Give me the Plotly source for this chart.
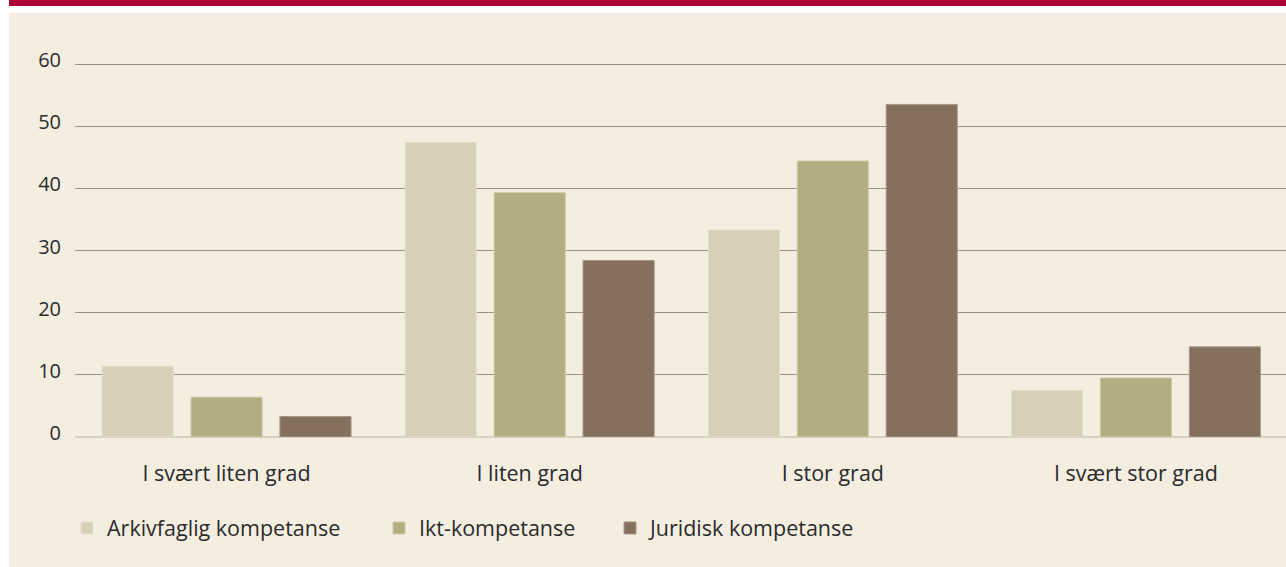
import plotly.graph_objects as go

categories = ["I svært liten grad", "I liten grad", "I stor grad", "I svært stor grad"]
series_names = ["Arkivfaglig kompetanse", "Ikt-kompetanse", "Juridisk kompetanse"]
arkiv = [11.4, 47.4, 33.3, 7.5]
ikt = [6.4, 39.3, 44.4, 9.5]
juridisk = [3.3, 28.4, 53.5, 14.5]
y_ticks = [0, 10, 20, 30, 40, 50, 60]

colors = ["#d8cfb9", "#b3ae82", "#857060"]
outlines = ["#e6dfcc", "#cfc9a4", "#a89886"]

W, H = 1286, 567
L, R, T, B = 75, 0, 61, 130
pw, ph = W - L - R, H - T - B

def px_x(p):
    return (p - L) / pw

def px_y(p):
    return (H - B - p) / ph

legend_names = ["legend", "legend2", "legend3"]
legend_x = [67, 379, 610]

fig = go.Figure()
for name, vals, c, oc, lg in zip(series_names, [arkiv, ikt, juridisk], colors, outlines, legend_names):
    fig.add_trace(go.Bar(x=categories, y=vals, name=name, legend=lg,
                         marker=dict(color=c, line=dict(color=oc, width=1))))

font_family = "Open Sans, Noto Sans, sans-serif"
legend_common = dict(orientation="h", xanchor="left", y=px_y(528), yanchor="middle",
                     bgcolor="rgba(0,0,0,0)", font=dict(size=21.5, family=font_family, color="#2b2b2b"),
                     itemclick=False, itemdoubleclick=False)

fig.update_layout(
    width=W, height=H,
    margin=dict(l=L, r=R, t=T, b=B, pad=0),
    paper_bgcolor="#ffffff",
    plot_bgcolor="rgba(0,0,0,0)",
    barmode="group", bargap=0.12, bargroupgap=0.2,
    font=dict(family=font_family, size=20, color="#2b2b2b"),
    showlegend=True,
    legend=dict(x=px_x(legend_x[0]), **legend_common),
    legend2=dict(x=px_x(legend_x[1]), **legend_common),
    legend3=dict(x=px_x(legend_x[2]), **legend_common),
    xaxis=dict(range=[-0.5, 3.495], showgrid=False, zeroline=False, showline=False,
               ticks="", ticklabelstandoff=21, tickfont=dict(size=21.5)),
    yaxis=dict(range=[0, 60.482], tickvals=y_ticks, showgrid=True, gridcolor="#a09080", gridwidth=1,
               zeroline=True, zerolinecolor="#d9d1bf", zerolinewidth=2, showline=False,
               ticks="", ticklabelstandoff=13, ticklabelshift=-4, tickfont=dict(size=20)),
    shapes=[
        dict(type="rect", xref="paper", yref="paper", x0=px_x(9), x1=px_x(W), y0=px_y(H), y1=px_y(13),
             fillcolor="#f4eee1", line=dict(width=0), layer="below"),
        dict(type="rect", xref="paper", yref="paper", x0=px_x(9), x1=px_x(W), y0=px_y(6), y1=px_y(0),
             fillcolor="#ad0034", line=dict(width=0), layer="below"),
    ],
)

fig.write_html("out.html", config={"displayModeBar": False},
               post_script="document.body.style.margin='0px';document.body.style.overflow='hidden';")
